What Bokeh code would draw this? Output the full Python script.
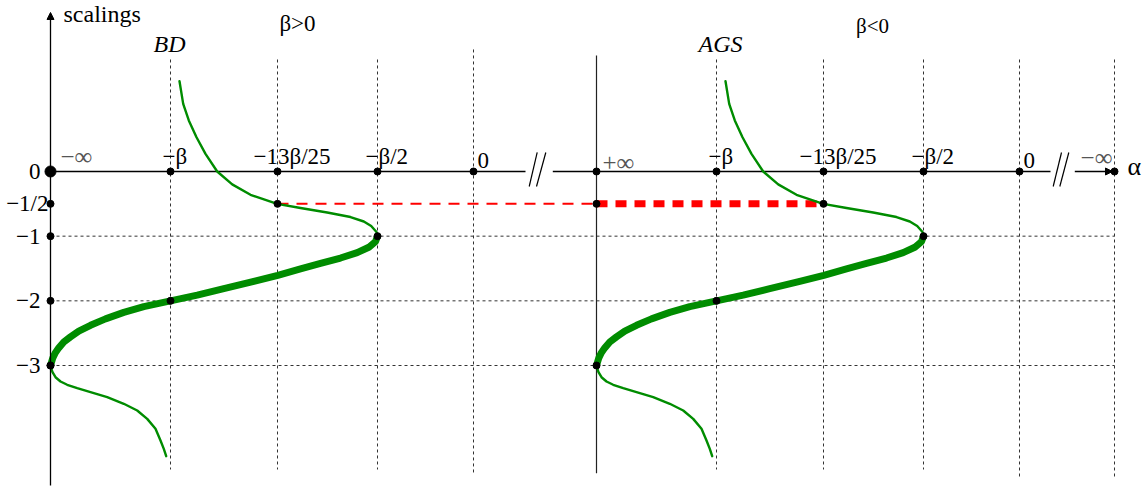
from bokeh.plotting import figure
from bokeh.models import Range1d, Arrow, NormalHead
from bokeh.core.properties import value
from bokeh.embed import file_html
from bokeh.resources import INLINE

# ---------------- data (schematic alpha units, scaling values) ----------------
panel_names = ["BD", "AGS"]
panel_signs = ["β>0", "β<0"]
panel_origin = [0.0, 5.46]                 # alpha position of the infinite end of each panel
alpha_tick_labels = ["−β", "−13β/25", "−β/2", "0"]
alpha_tick_pos = [1.20, 2.27, 3.27, 4.23]  # relative to the panel origin
end_labels = ["−∞", "+∞", "−∞"]
end_pos = [0.0, 5.46, 10.64]
scaling_ticks = [0.0, -0.5, -1.0, -2.0, -3.0]
scaling_labels = ["0", "−1/2", "−1", "−2", "−3"]
grid_scalings = [-1.0, -2.0, -3.0]

# green curve (relative alpha, scaling)
upper_alpha = [1.29, 1.327, 1.383, 1.46, 1.55, 1.667, 1.817, 2.0, 2.267, 2.50, 2.767,
               3.0, 3.133, 3.207, 3.26, 3.27]
upper_scaling = [1.395, 1.046, 0.789, 0.530, 0.273, 0.0, -0.199, -0.360, -0.5, -0.565, -0.634,
                 -0.704, -0.773, -0.843, -0.935, -1.0]
thick_alpha = [3.27, 3.25, 3.183, 3.067, 2.90, 2.70, 2.50, 2.273, 2.033, 1.733, 1.467, 1.20,
               0.933, 0.733, 0.55, 0.40, 0.283, 0.20, 0.133, 0.083, 0.047, 0.023, 0.01, 0.0]
thick_scaling = [-1.0, -1.083, -1.172, -1.255, -1.338, -1.422, -1.505, -1.605, -1.70, -1.812,
                 -1.912, -2.0, -2.090, -2.179, -2.279, -2.378, -2.467, -2.557, -2.637, -2.727,
                 -2.806, -2.885, -2.951, -3.0]
lower_alpha = [0.0, 0.02, 0.05, 0.10, 0.167, 0.267, 0.40, 0.567, 0.733, 0.867, 0.967, 1.05,
               1.10, 1.133, 1.157]
lower_scaling = [-3.0, -3.104, -3.181, -3.247, -3.298, -3.351, -3.413, -3.490, -3.592, -3.696,
                 -3.825, -3.979, -4.160, -4.289, -4.402]

# marked points on each curve: (relative alpha, scaling)
marked_alpha = [2.27, 3.27, 1.20, 0.0]
marked_scaling = [-0.5, -1.0, -2.0, -3.0]

# ---------------- layout / style ----------------
FONT = value("Liberation Serif")
GREEN = "#008c00"
RED = "#ff0000"
GRID = "#333333"
DY = -7   # baseline correction for svg text

p = figure(width=1146, height=487,
           x_range=Range1d(-0.50, 10.96), y_range=Range1d(-4.8864, 2.6442),
           output_backend="svg", toolbar_location=None, min_border=0,
           x_axis_location=None, y_axis_location=None)
p.grid.visible = False
p.outline_line_color = None
p.background_fill_color = "white"
p.border_fill_color = "white"

# vertical dotted guide lines
vx, vtop, vbot = [], [], []
for k, o in enumerate(panel_origin):
    for j, t in enumerate(alpha_tick_pos):
        vx.append(o + t)
        if k == 0:
            vtop.append(1.887 if j == 3 else 1.732)
            vbot.append(-4.654 if j == 3 else -4.608)
        else:
            vtop.append(1.732)
            vbot.append(-4.732 if j == 3 else -4.608)
vx.append(end_pos[2]); vtop.append(1.732); vbot.append(-4.732)
p.segment(x0=vx, y0=vtop, x1=vx, y1=vbot, line_color=GRID, line_width=1, line_dash="3 3")

# horizontal dotted guide lines
p.segment(x0=[0.0] * len(grid_scalings), y0=grid_scalings,
          x1=[end_pos[2]] * len(grid_scalings), y1=grid_scalings,
          line_color=GRID, line_width=1, line_dash="3 3")

# solid vertical line at +inf (second panel)
p.segment(x0=[panel_origin[1]], y0=[1.794], x1=[panel_origin[1]], y1=[-4.665],
          line_color="#222222", line_width=1.2)

# vertical scalings axis with arrow
p.add_layout(Arrow(end=NormalHead(size=7, fill_color="black", line_color="black", line_width=1),
                   x_start=0.0, y_start=-4.855, x_end=0.0, y_end=2.459,
                   line_color="black", line_width=1.3))

# horizontal alpha axis with two breaks
p.segment(x0=[0.0, 5.023], y0=[0.0, 0.0], x1=[4.75, 10.0], y1=[0.0, 0.0],
          line_color="black", line_width=1.3)
p.add_layout(Arrow(end=NormalHead(size=7, fill_color="black", line_color="black", line_width=1),
                   x_start=10.243, y_start=0.0, x_end=10.62, y_end=0.0,
                   line_color="black", line_width=1.3))
p.segment(x0=[4.787, 4.86, 10.027, 10.093], y0=[-0.232] * 4,
          x1=[4.867, 4.953, 10.11, 10.183], y1=[0.294] * 4,
          line_color="black", line_width=1.2)

# red links at scaling -1/2
left_mid = panel_origin[0] + alpha_tick_pos[1]
right_mid = panel_origin[1] + alpha_tick_pos[1]
p.line([left_mid, panel_origin[1]], [-0.5, -0.5], line_color=RED, line_width=2, line_dash="11 8")
p.line([panel_origin[1], right_mid], [-0.5, -0.5], line_color=RED, line_width=7, line_dash="11 8")

# green curves
for o in panel_origin:
    p.line([o + a for a in upper_alpha], upper_scaling, line_color=GREEN, line_width=2.4,
           line_join="round", line_cap="round")
    p.line([o + a for a in thick_alpha], thick_scaling, line_color=GREEN, line_width=7,
           line_join="round", line_cap="round")
    p.line([o + a for a in lower_alpha], lower_scaling, line_color=GREEN, line_width=2.4,
           line_join="round", line_cap="round")

# dots
dot_x, dot_y = [], []
for o in panel_origin:
    for t in alpha_tick_pos:
        dot_x.append(o + t); dot_y.append(0.0)
dot_x += [panel_origin[1], end_pos[2]]; dot_y += [0.0, 0.0]
for s in scaling_ticks[1:]:
    dot_x.append(0.0); dot_y.append(s)
for o in panel_origin:
    for a, s in zip(marked_alpha, marked_scaling):
        dot_x.append(o + a); dot_y.append(s)
dot_x.append(panel_origin[1]); dot_y.append(-0.5)
p.scatter(dot_x, dot_y, size=7, color="black")
p.scatter([0.0], [0.0], size=11, color="black")

# alpha tick labels
tick_dx = [-8, -24, -12, 4]
tick_dy = [-8, -8, -8, -4]
for o in panel_origin:
    for lab, t, dx, dy in zip(alpha_tick_labels, alpha_tick_pos, tick_dx, tick_dy):
        p.text(x=[o + t], y=[0.0], text=[lab], x_offset=dx, y_offset=dy + DY,
               text_font=FONT, text_font_size="23px", text_color="black",
               text_align="left", text_baseline="alphabetic")

# infinite-end labels (grey)
end_align = ["left", "left", "right"]
end_dx = [10, 6, -2]
end_dy = [-15, -9, -14]
for lab, x, al, dx, dy in zip(end_labels, end_pos, end_align, end_dx, end_dy):
    p.text(x=[x], y=[0.0], text=[lab], x_offset=dx, y_offset=dy,
           text_font=FONT, text_font_size="25px", text_color="#555555",
           text_align=al, text_baseline="alphabetic")

# alpha axis name
p.text(x=[end_pos[2]], y=[0.0], text=["α"], x_offset=13, y_offset=-5,
       text_font=FONT, text_font_size="26px", text_color="black",
       text_align="left", text_baseline="alphabetic")

# scaling tick labels
for lab, s in zip(scaling_labels, scaling_ticks):
    p.text(x=[0.0], y=[s], text=[lab], x_offset=(-2 if lab == "−1/2" else -10), y_offset=0,
           text_font=FONT, text_font_size="23px", text_color="black",
           text_align="right", text_baseline="alphabetic")

# titles
p.text(x=[0.13], y=[2.629], text=["scalings"], text_font=FONT,
       text_font_size="24px", text_color="black", text_align="left", text_baseline="top")
p.text(x=[1.19, 6.70], y=[1.871, 1.856], text=panel_names, y_offset=DY, text_font=FONT,
       text_font_size="24px", text_font_style="italic", text_color="black",
       text_align="center", text_baseline="alphabetic")
p.text(x=[2.47], y=[2.180], text=[panel_signs[0]], y_offset=DY, text_font=FONT,
       text_font_size="23px", text_color="black", text_align="center", text_baseline="alphabetic")
p.text(x=[8.22], y=[2.134], text=[panel_signs[1]], y_offset=DY, text_font=FONT,
       text_font_size="21px", text_color="black", text_align="center", text_baseline="alphabetic")

open("out.html", "w").write(file_html(p, INLINE))
